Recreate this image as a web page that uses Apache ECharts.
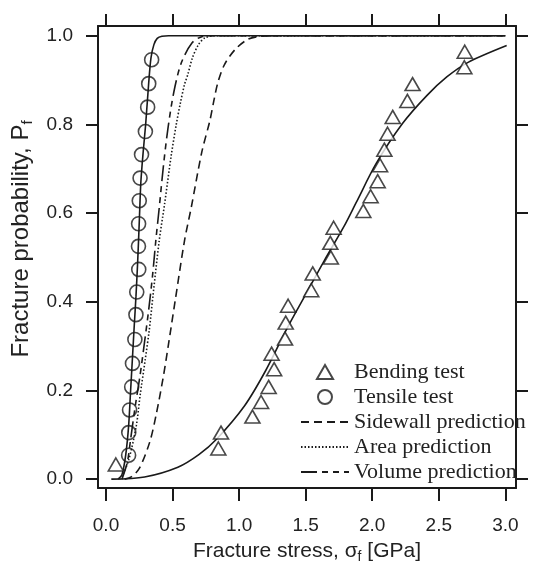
<!DOCTYPE html>
<html>
<head>
<meta charset="utf-8">
<title>Fracture probability</title>
<script src="https://cdn.jsdelivr.net/npm/echarts@6/dist/echarts.min.js"></script>
<style>
  html, body { margin: 0; padding: 0; background: #fff; }
  #chart { width: 549px; height: 569px; }
</style>
</head>
<body>
<div id="chart"></div>
<script>
// tick labels
const xTicks = [0, 0.5, 1.0, 1.5, 2.0, 2.5, 3.0];
const yTicks = [0, 0.2, 0.4, 0.6, 0.8, 1.0];

// bending test (triangles)
const bendStress = [0.074, 0.844, 0.864, 1.10, 1.165, 1.222, 1.263, 1.244, 1.345, 1.35, 1.368, 1.542, 1.553, 1.689,
  1.685, 1.71, 1.933, 1.988, 2.041, 2.059, 2.091, 2.115, 2.154, 2.264, 2.303, 2.692, 2.695];
const bendProb = [0.033, 0.069, 0.105, 0.141, 0.174, 0.208, 0.248, 0.283, 0.317, 0.353, 0.391, 0.426, 0.464, 0.5,
  0.533, 0.567, 0.605, 0.638, 0.672, 0.708, 0.743, 0.779, 0.817, 0.853, 0.891, 0.929, 0.964];

// tensile test (circles)
const tensStress = [0.17, 0.171, 0.177, 0.193, 0.199, 0.217, 0.225, 0.231, 0.246, 0.244, 0.245, 0.25, 0.256,
  0.267, 0.296, 0.313, 0.321, 0.343];
const tensProb = [0.054, 0.105, 0.156, 0.208, 0.261, 0.315, 0.371, 0.422, 0.473, 0.525, 0.576, 0.628, 0.679,
  0.732, 0.784, 0.839, 0.892, 0.946];

// fitted curves (solid)
const bendFitX = [0.04, 0.29, 0.54, 0.70, 0.83, 1.04, 1.20, 1.36, 1.49, 1.64, 1.79, 1.88, 2.03, 2.23, 2.41, 2.56, 2.72, 3.01];
const bendFitY = [0.0, 0.005, 0.027, 0.056, 0.09, 0.165, 0.245, 0.34, 0.411, 0.493, 0.571, 0.624, 0.712, 0.803, 0.865, 0.907, 0.94, 0.978];
const tensFitX = [0.09, 0.12, 0.148, 0.17, 0.185, 0.2, 0.213, 0.225, 0.238, 0.25, 0.262, 0.28, 0.298, 0.32, 0.338, 0.36, 0.385, 0.42, 0.47, 3.0];
const tensFitY = [0.0, 0.01, 0.054, 0.12, 0.2, 0.28, 0.35, 0.411, 0.49, 0.58, 0.67, 0.74, 0.8, 0.89, 0.95, 0.98, 0.994, 0.999, 1.0, 1.0];

// predictions
const sideX = [0.14, 0.19, 0.25, 0.33, 0.38, 0.43, 0.47, 0.52, 0.59, 0.64, 0.72, 0.78, 0.81, 0.84, 0.89, 0.97, 1.06, 1.14, 1.25, 3.0];
const sideY = [0.0, 0.005, 0.024, 0.085, 0.15, 0.23, 0.305, 0.403, 0.538, 0.612, 0.738, 0.808, 0.853, 0.894, 0.935, 0.969, 0.991, 0.998, 1.0, 1.0];
const areaX = [0.10, 0.125, 0.173, 0.228, 0.256, 0.294, 0.325, 0.352, 0.40, 0.44, 0.49, 0.528, 0.56, 0.59, 0.615, 0.649, 0.695, 0.742, 0.82, 3.0];
const areaY = [0.0, 0.009, 0.046, 0.121, 0.188, 0.268, 0.336, 0.411, 0.538, 0.62, 0.73, 0.80, 0.85, 0.89, 0.913, 0.95, 0.98, 0.995, 1.0, 1.0];
const volX = [0.12, 0.161, 0.185, 0.22, 0.255, 0.29, 0.32, 0.35, 0.375, 0.40, 0.432, 0.465, 0.509, 0.566, 0.647, 0.72, 0.80, 3.0];
const volY = [0.0, 0.039, 0.09, 0.165, 0.232, 0.31, 0.38, 0.46, 0.54, 0.612, 0.708, 0.79, 0.872, 0.939, 0.984, 0.998, 1.0, 1.0];

const ink = '#1a1a1a';
const pairs = (xs, ys) => xs.map((x, i) => [x, ys[i]]);

function curve(name, xs, ys, type, width) {
  return {
    name: name,
    type: 'line',
    data: pairs(xs, ys),
    symbol: 'none',
    smooth: 0.3,
    color: ink,
    itemStyle: { opacity: 0 },   // hides the dot in the legend icon
    lineStyle: { color: ink, width: width, type: type },
    z: 2
  };
}

const axisLineStyle = { color: ink, width: 2 };

const option = {
  backgroundColor: '#fff',
  animation: false,
  grid: { left: 98, right: 33, top: 26, bottom: 76 },
  legend: {
    orient: 'vertical',
    left: 300,
    top: 361,
    padding: 0,
    itemWidth: 48,
    itemHeight: 14,
    itemGap: 3,
    textStyle: { fontFamily: 'Liberation Serif', fontSize: 22, color: '#222', lineHeight: 21 },
    data: [
      { name: 'Bending test', icon: 'path://M5,0L10,8.7L0,8.7Z' },
      'Tensile test', 'Sidewall prediction', 'Area prediction', 'Volume prediction'
    ]
  },
  xAxis: [
    {
      type: 'value', min: -0.06, max: 3.08, position: 'bottom',
      axisLine: { onZero: false, lineStyle: axisLineStyle },
      axisTick: { length: 13, lineStyle: axisLineStyle, customValues: xTicks },
      axisLabel: {
        customValues: xTicks, margin: 28, fontSize: 19, color: '#222', fontFamily: 'Liberation Sans',
        formatter: v => v.toFixed(1)
      },
      splitLine: { show: false },
      name: 'Fracture stress, σ{sub|f} [GPa]',
      nameLocation: 'middle',
      nameGap: 50,
      nameTextStyle: {
        fontSize: 21, color: '#222', fontFamily: 'Liberation Sans',
        rich: { sub: { fontSize: 14, color: '#222', fontFamily: 'Liberation Sans', padding: [12, 0, 0, 0] } }
      }
    },
    {
      type: 'value', min: -0.06, max: 3.08, position: 'top',
      axisLine: { onZero: false, lineStyle: axisLineStyle },
      axisTick: { length: 12, lineStyle: axisLineStyle, customValues: xTicks },
      axisLabel: { show: false },
      splitLine: { show: false }
    }
  ],
  yAxis: [
    {
      type: 'value', min: -0.02, max: 1.022, position: 'left',
      axisLine: { onZero: false, lineStyle: axisLineStyle },
      axisTick: { length: 12, lineStyle: axisLineStyle, customValues: yTicks },
      axisLabel: {
        customValues: yTicks, margin: 25, fontSize: 19, color: '#222', fontFamily: 'Liberation Sans',
        formatter: v => v.toFixed(1)
      },
      splitLine: { show: false },
      name: 'Fracture probability, P{sub|f}',
      nameLocation: 'middle',
      nameRotate: 90,
      nameGap: 60,
      nameTextStyle: {
        fontSize: 24, color: '#222', fontFamily: 'Liberation Sans', padding: [0, 0, 0, 36],
        rich: { sub: { fontSize: 15, color: '#222', fontFamily: 'Liberation Sans', padding: [13, 0, 0, 0] } }
      }
    },
    {
      type: 'value', min: -0.02, max: 1.022, position: 'right',
      axisLine: { onZero: false, lineStyle: axisLineStyle },
      axisTick: { length: 12, lineStyle: axisLineStyle, customValues: yTicks },
      axisLabel: { show: false },
      splitLine: { show: false }
    }
  ],
  series: [
    curve('Bending fit', bendFitX, bendFitY, 'solid', 1.6),
    curve('Tensile fit', tensFitX, tensFitY, 'solid', 1.6),
    curve('Sidewall prediction', sideX, sideY, [8, 5], 1.6),
    curve('Area prediction', areaX, areaY, [1.5, 2], 1.6),
    curve('Volume prediction', volX, volY, [16, 5, 6, 5, 6, 5], 1.6),
    {
      name: 'Bending test',
      type: 'scatter',
      data: pairs(bendStress, bendProb),
      symbol: 'triangle',
      symbolSize: [15, 13],
      itemStyle: { color: '#fff', borderColor: ink, borderWidth: 1.6 },
      z: 3
    },
    {
      name: 'Tensile test',
      type: 'scatter',
      data: pairs(tensStress, tensProb),
      symbol: 'circle',
      symbolSize: 14,
      itemStyle: { color: 'rgba(255,255,255,0)', borderColor: ink, borderWidth: 1.6 },
      z: 3
    }
  ]
};

const myChart = echarts.init(document.getElementById('chart'));
myChart.setOption(option);
</script>
</body>
</html>
